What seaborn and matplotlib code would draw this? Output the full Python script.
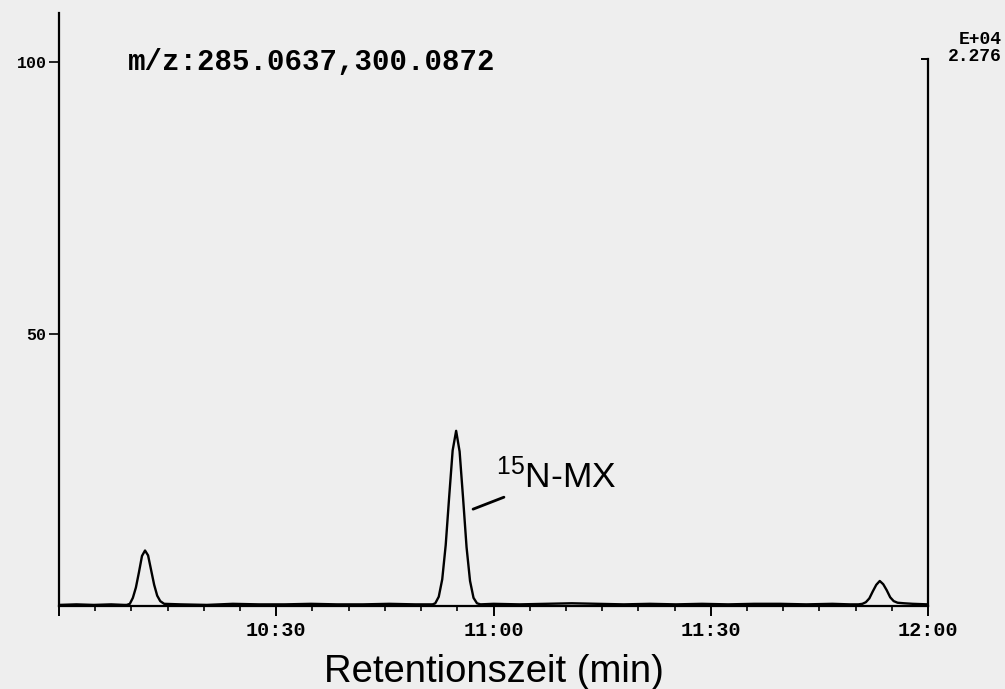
'''
Chromatogram of m/z 285.0637, 300.0872 with the 15N-MX peak
'''

import pandas as pd
import matplotlib
matplotlib.use('Agg')
import matplotlib.pyplot as plt
from matplotlib.ticker import FixedLocator, MultipleLocator
import seaborn as sns

# Trace: retention time (min) and relative intensity (%)
time_min = [10.000, 10.040, 10.080, 10.120, 10.150, 10.156,
            10.163, 10.170, 10.177, 10.184, 10.191, 10.198, 10.205, 10.212,
            10.219, 10.226, 10.233, 10.242,
            10.280, 10.340, 10.400, 10.460, 10.520, 10.580, 10.640, 10.700,
            10.760, 10.820, 10.860,
            10.866, 10.874, 10.882, 10.890, 10.898, 10.906, 10.914, 10.922,
            10.930, 10.938, 10.946, 10.954, 10.962, 10.970,
            11.000, 11.060, 11.120, 11.180, 11.240, 11.300, 11.360, 11.420,
            11.480, 11.540, 11.600, 11.660, 11.720, 11.780, 11.820, 11.840,
            11.849, 11.857, 11.865, 11.873, 11.881, 11.889, 11.897, 11.905,
            11.913, 11.921, 11.930, 11.945, 11.965, 12.000]
intensity = [0.2, 0.3, 0.2, 0.3, 0.2, 0.2,
             0.4, 1.5, 3.4, 6.2, 9.2, 10.2, 9.3, 6.6,
             3.9, 1.9, 0.9, 0.4,
             0.3, 0.2, 0.4, 0.3, 0.3, 0.4, 0.3, 0.3,
             0.4, 0.3, 0.3,
             0.5, 1.7, 4.9, 11.2, 20.1, 28.6, 32.2, 28.4,
             19.8, 10.8, 4.6, 1.5, 0.5, 0.3,
             0.4, 0.3, 0.4, 0.5, 0.4, 0.3, 0.4, 0.3,
             0.4, 0.3, 0.4, 0.4, 0.3, 0.4, 0.3, 0.3,
             0.4, 0.7, 1.4, 2.7, 3.9, 4.6, 4.0, 2.9,
             1.6, 0.9, 0.6, 0.5, 0.4, 0.3]

# Axis ticks
xtick_pos = [10.0, 10.5, 11.0, 11.5, 12.0]
xtick_labels = ['', '10:30', '11:00', '11:30', '12:00']
ytick_pos = [50, 100]
ytick_labels = ['50', '100']

# Texts
mz_label = 'm/z:285.0637,300.0872'
scale_label = 'E+04\n2.276'
peak_label = r'$^{15}$N-MX'
x_label = 'Retentionszeit (min)'

df = pd.DataFrame({'time': time_min, 'intensity': intensity})

sns.set_theme(style='ticks')
plt.rcParams['font.family'] = ['Liberation Sans', 'DejaVu Sans']
plt.rcParams['mathtext.default'] = 'regular'
paper = '#eeeeee'

fig = plt.figure(figsize=(10.05, 6.89), dpi=100, facecolor=paper)
ax = fig.add_axes([59 / 1005, 83 / 689, 869 / 1005, 593 / 689])
ax.set_facecolor(paper)

sns.lineplot(data=df, x='time', y='intensity', color='black',
             linewidth=1.7, ax=ax)

ax.set_xlim(10.0, 12.0)
ax.set_ylim(0, 109)

# Spines
for side in ['left', 'bottom', 'right']:
    ax.spines[side].set_linewidth(1.6)
    ax.spines[side].set_color('black')
ax.spines['top'].set_visible(False)
ax.spines['right'].set_bounds(0, 100.5)

# X ticks: major every 30 s, minor every 5 s
ax.xaxis.set_major_locator(FixedLocator(xtick_pos))
ax.set_xticklabels(xtick_labels)
ax.xaxis.set_minor_locator(MultipleLocator(5 / 60))
ax.tick_params(axis='x', which='major', length=7, width=1.4,
               direction='out', pad=4, colors='black', labelsize=14.5)
ax.tick_params(axis='x', which='minor', length=3.5, width=1.2,
               direction='out', colors='black')

# Y ticks
ax.yaxis.set_major_locator(FixedLocator(ytick_pos))
ax.set_yticklabels(ytick_labels)
ax.tick_params(axis='y', which='major', length=7, width=1.2,
               direction='out', pad=2, colors='black', labelsize=12)
for lbl in ax.get_xticklabels() + ax.get_yticklabels():
    lbl.set_fontfamily('Liberation Mono')
    lbl.set_fontweight('bold')

# Right-hand bracket at full scale
ax2 = ax.twinx()
ax2.set_ylim(ax.get_ylim())
ax2.yaxis.set_major_locator(FixedLocator([100.5]))
ax2.set_yticklabels([''])
ax2.tick_params(axis='y', length=5, width=1.4, direction='in', colors='black')
for side in ax2.spines:
    ax2.spines[side].set_visible(False)

ax.set_xlabel(x_label, fontsize=27.5, labelpad=10, color='black')
ax.set_ylabel('')

ax.text(10.159, 100, mz_label, fontsize=21, fontfamily='Liberation Mono',
        fontweight='bold', va='center', ha='left', color='black')
ax.text(1.085, 0.912, scale_label, transform=ax.transAxes, fontsize=13,
        fontfamily='Liberation Mono', fontweight='bold', ha='right',
        va='bottom', linespacing=1.0, color='black')

# Peak label with leader line
ax.annotate('', xy=(10.953, 17.8), xytext=(11.024, 20.0),
            arrowprops=dict(arrowstyle='-', lw=2, color='black',
                            shrinkA=0, shrinkB=0))
ax.text(11.006, 21.8, peak_label, fontsize=25.5, ha='left', va='baseline',
        color='black')

plt.savefig('out.png', dpi=100, facecolor=paper)
